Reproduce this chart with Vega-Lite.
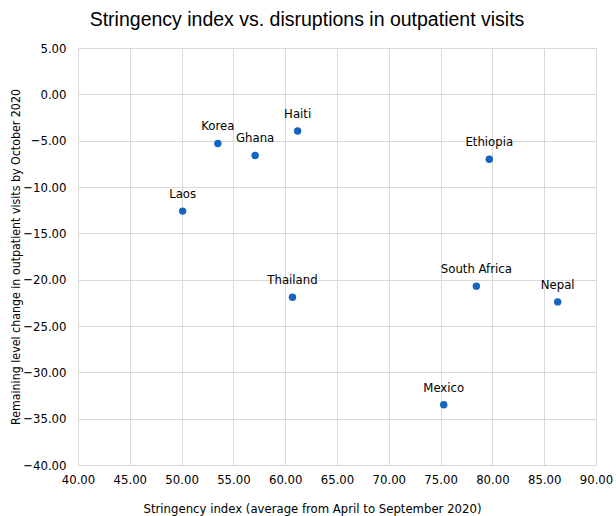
{
  "$schema": "https://vega.github.io/schema/vega-lite/v6.json",
  "autosize": "none",
  "width": 518,
  "height": 417,
  "padding": {"left": 78, "top": 48, "right": 20, "bottom": 51},
  "background": "white",
  "title": {
    "text": "Stringency index vs. disruptions in outpatient visits",
    "font": "Liberation Sans",
    "fontSize": 19.5,
    "fontWeight": "normal",
    "color": "#000000",
    "anchor": "middle",
    "dx": -30,
    "offset": 12
  },
  "data": {
    "values": [
      {"country": "Laos", "stringency": 50.1, "change": -12.6},
      {"country": "Korea", "stringency": 53.5, "change": -5.3},
      {"country": "Ghana", "stringency": 57.1, "change": -6.6},
      {"country": "Haiti", "stringency": 61.2, "change": -3.95},
      {"country": "Thailand", "stringency": 60.7, "change": -21.9},
      {"country": "Ethiopia", "stringency": 79.7, "change": -7.0},
      {"country": "South Africa", "stringency": 78.45, "change": -20.7},
      {"country": "Nepal", "stringency": 86.3, "change": -22.4},
      {"country": "Mexico", "stringency": 75.3, "change": -33.5}
    ]
  },
  "encoding": {
    "x": {
      "field": "stringency",
      "type": "quantitative",
      "scale": {"domain": [40, 90], "nice": false, "zero": false},
      "axis": {
        "title": "Stringency index (average from April to September 2020)",
        "values": [40, 45, 50, 55, 60, 65, 70, 75, 80, 85, 90],
        "format": ".2f",
        "titleFont": "DejaVu Sans Condensed",
        "titleFontSize": 13,
        "titleFontWeight": "normal",
        "titleColor": "#000000",
        "titlePadding": 16,
        "titleX": 234,
        "labelFont": "DejaVu Sans Condensed",
        "labelFontSize": 13,
        "labelColor": "#000000",
        "labelPadding": 8,
        "labelFlush": false,
        "labelOverlap": false,
        "ticks": false,
        "domain": false,
        "grid": true,
        "gridColor": "#d9d9d9",
        "gridWidth": 1
      }
    },
    "y": {
      "field": "change",
      "type": "quantitative",
      "scale": {"domain": [-40, 5], "nice": false, "zero": false},
      "axis": {
        "title": "Remaining level change in outpatient visits by October 2020",
        "values": [-40, -35, -30, -25, -20, -15, -10, -5, 0, 5],
        "format": ".2f",
        "titleFont": "DejaVu Sans Condensed",
        "titleFontSize": 12.3,
        "titleFontWeight": "normal",
        "titleColor": "#000000",
        "titlePadding": 0,
        "labelFont": "DejaVu Sans Condensed",
        "labelFontSize": 13,
        "labelColor": "#000000",
        "labelPadding": 12,
        "labelFlush": false,
        "labelOverlap": false,
        "ticks": false,
        "domain": false,
        "grid": true,
        "gridColor": "#d9d9d9",
        "gridWidth": 1
      }
    }
  },
  "layer": [
    {
      "mark": {"type": "point", "filled": true, "shape": "circle", "size": 55, "color": "#1565C0", "opacity": 1}
    },
    {
      "mark": {"type": "text", "dy": -17, "font": "DejaVu Sans Condensed", "fontSize": 13, "color": "#000000", "align": "center"},
      "encoding": {"text": {"field": "country"}}
    }
  ],
  "config": {"view": {"stroke": "#d9d9d9"}}
}
